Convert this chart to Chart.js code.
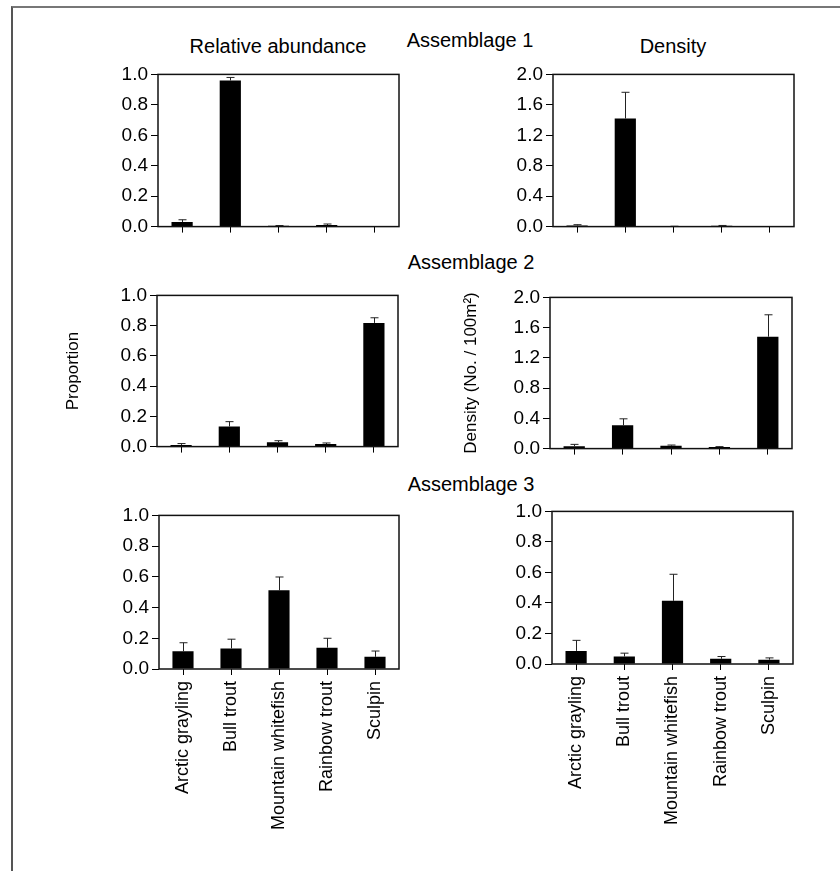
<!DOCTYPE html>
<html>
<head>
<meta charset="utf-8">
<script src="https://cdn.jsdelivr.net/npm/chart.js@4.4.1/dist/chart.umd.min.js"></script>
<style>
  body { margin: 0; background: #fff; }
  #page { position: relative; width: 840px; height: 871px; overflow: hidden; background: #fff;
          font-family: "Liberation Sans", Arial, sans-serif; }
  .frame { position: absolute; left: 11px; top: 6px; right: -4px; bottom: -4px;
           border-top: 2px solid #777; border-left: 2px solid #555; }
  .lbl { position: absolute; font-size: 20px; color: #000; white-space: nowrap;
         transform: translate(-50%, -50%); }
  canvas { position: absolute; }
</style>
</head>
<body>
<div id="page">
  <div class="frame"></div>
  <div class="lbl" style="left:278px;top:46px">Relative abundance</div>
  <div class="lbl" style="left:673px;top:46px">Density</div>
  <div class="lbl" style="left:470px;top:40px">Assemblage 1</div>
  <div class="lbl" style="left:471px;top:262px">Assemblage 2</div>
  <div class="lbl" style="left:471px;top:484px">Assemblage 3</div>
  <canvas id="ra1"></canvas>
  <canvas id="de1"></canvas>
  <canvas id="ra2"></canvas>
  <canvas id="de2"></canvas>
  <canvas id="ra3"></canvas>
  <canvas id="de3"></canvas>
</div>
<script>
// data (mean and upper error)
const species = ['Arctic grayling', 'Bull trout', 'Mountain whitefish', 'Rainbow trout', 'Sculpin'];

const abund1    = [0.03, 0.96, 0.005, 0.01, 0];
const abund1Err = [0.015, 0.02, 0.002, 0.007, 0];
const dens1     = [0.015, 1.42, 0.003, 0.01, 0];
const dens1Err  = [0.01, 0.345, 0.002, 0.005, 0];

const abund2    = [0.011, 0.133, 0.028, 0.017, 0.818];
const abund2Err = [0.009, 0.032, 0.011, 0.007, 0.034];
const dens2     = [0.03, 0.308, 0.039, 0.021, 1.48];
const dens2Err  = [0.026, 0.086, 0.008, 0.005, 0.29];

const abund3    = [0.115, 0.134, 0.512, 0.139, 0.079];
const abund3Err = [0.056, 0.06, 0.087, 0.061, 0.038];
const dens3     = [0.086, 0.049, 0.414, 0.034, 0.028];
const dens3Err  = [0.069, 0.022, 0.174, 0.015, 0.012];

const propTicks = [0, 0.2, 0.4, 0.6, 0.8, 1.0];
const densTicks = [0, 0.4, 0.8, 1.2, 1.6, 2.0];

const FONT = '"Liberation Sans", Arial, sans-serif';

// upward error bars with a small cap
const errorBars = {
  id: 'errorBars',
  afterDatasetsDraw(chart) {
    const ds = chart.data.datasets[0];
    const y = chart.scales.y;
    const ctx = chart.ctx;
    ctx.save();
    ctx.strokeStyle = '#222';
    ctx.lineWidth = 1;
    chart.getDatasetMeta(0).data.forEach((bar, i) => {
      if (!ds.errors[i]) return;
      const top = y.getPixelForValue(ds.data[i] + ds.errors[i]);
      const x = Math.round(bar.x) + 0.5;
      ctx.beginPath();
      ctx.moveTo(x, bar.y);
      ctx.lineTo(x, top);
      ctx.moveTo(x - 4, top);
      ctx.lineTo(x + 4, top);
      ctx.stroke();
    });
    ctx.restore();
  }
};

// box round the plot area
const frame = {
  id: 'frame',
  afterDraw(chart) {
    const a = chart.chartArea;
    const ctx = chart.ctx;
    ctx.save();
    ctx.strokeStyle = '#111';
    ctx.lineWidth = 1.5;
    ctx.strokeRect(a.left, a.top, a.right - a.left, a.bottom - a.top);
    ctx.restore();
  }
};

// p = plot box {l, t, w, h}, yw = room left of the axis, xh = room under it
function makePanel(id, values, errors, ticks, p, yw, xh, yTitle, showNames) {
  const padTop = 12, padRight = 6;
  const cv = document.getElementById(id);
  cv.width = yw + p.w + padRight;
  cv.height = padTop + p.h + xh;
  cv.style.left = (p.l - yw) + 'px';
  cv.style.top = (p.t - padTop) + 'px';

  return new Chart(cv.getContext('2d'), {
    type: 'bar',
    data: {
      labels: species,
      datasets: [{
        data: values,
        errors: errors,
        backgroundColor: '#000',
        borderColor: '#222',
        borderWidth: 0,
        barPercentage: 0.44,
        categoryPercentage: 1
      }]
    },
    options: {
      responsive: false,
      animation: false,
      layout: { padding: { top: padTop, right: padRight, left: 0, bottom: 0 } },
      plugins: { legend: { display: false }, tooltip: { enabled: false } },
      scales: {
        x: {
          afterFit: s => { s.height = xh; },
          border: { display: false },
          grid: { display: true, drawOnChartArea: false, offset: false, tickLength: 6, color: '#000', lineWidth: 1 },
          ticks: {
            display: showNames,
            autoSkip: false,
            minRotation: 90,
            maxRotation: 90,
            padding: 6,
            color: '#000',
            font: { family: FONT, size: 18 }
          }
        },
        y: {
          min: ticks[0],
          max: ticks[ticks.length - 1],
          afterFit: s => { s.width = yw; },
          afterBuildTicks: s => { s.ticks = ticks.map(v => ({ value: v })); },
          border: { display: false },
          grid: { display: true, drawOnChartArea: false, tickLength: 7, color: '#000', lineWidth: 1 },
          ticks: {
            padding: 3,
            color: '#000',
            font: { family: FONT, size: 19 },
            callback: v => v.toFixed(1)
          },
          title: {
            display: !!yTitle,
            text: yTitle || '',
            color: '#000',
            padding: 0,
            font: { family: FONT, size: 17 }
          }
        }
      }
    },
    plugins: [errorBars, frame]
  });
}

makePanel('ra1', abund1, abund1Err, propTicks, { l: 158, t: 72, w: 241, h: 157 }, 60, 12, null, false);
makePanel('de1', dens1, dens1Err, densTicks, { l: 553, t: 72, w: 241, h: 157 }, 60, 12, null, false);
makePanel('ra2', abund2, abund2Err, propTicks, { l: 157, t: 293, w: 241, h: 156 }, 94, 12, 'Proportion', false);
makePanel('de2', dens2, dens2Err, densTicks, { l: 550, t: 295, w: 242, h: 156 }, 89, 12, 'Density (No. / 100m\u00B2)', false);
makePanel('ra3', abund3, abund3Err, propTicks, { l: 159, t: 513, w: 240, h: 156 }, 60, 185, null, true);
makePanel('de3', dens3, dens3Err, propTicks, { l: 552, t: 509, w: 241, h: 155 }, 60, 185, null, true);
</script>
</body>
</html>
